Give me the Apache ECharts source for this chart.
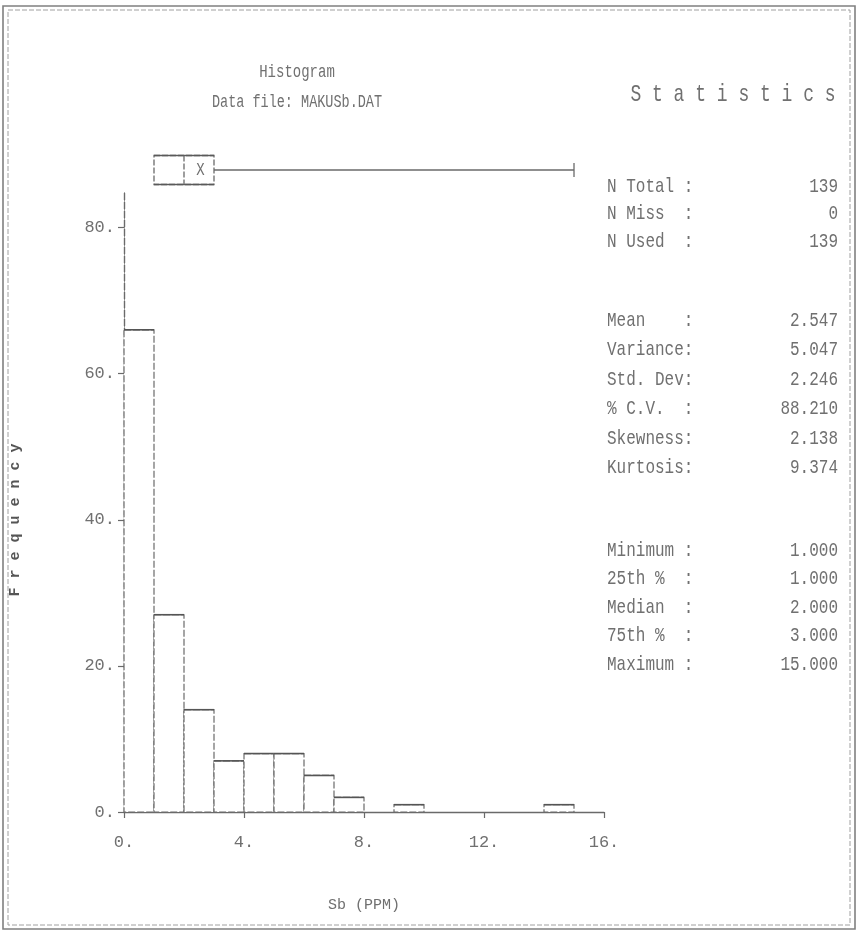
<!DOCTYPE html>
<html>
<head>
<meta charset="utf-8">
<script src="https://cdn.jsdelivr.net/npm/echarts@6/dist/echarts.min.js"></script>
<style>
  html, body { margin: 0; padding: 0; background: #fff; }
  #chart { width: 859px; height: 933px; }
</style>
</head>
<body>
<div id="chart"></div>
<script>
// Sb (PPM) histogram, unit-wide bins: bin k holds the values falling in (k, k+1]
const binStarts = [0, 1, 2, 3, 4, 5, 6, 7, 8, 9, 10, 11, 12, 13, 14, 15];
const binCounts = [66, 27, 14, 7, 8, 8, 5, 2, 0, 1, 0, 0, 0, 0, 1, 0];
const xTicks = [0, 4, 8, 12, 16];
const yTicks = [0, 20, 40, 60, 80];

// Summary statistics, printed in three blocks
const countLabels = ['N Total :', 'N Miss  :', 'N Used  :'];
const countValues = ['139', '0', '139'];
const momentLabels = ['Mean    :', 'Variance:', 'Std. Dev:', '% C.V.  :', 'Skewness:', 'Kurtosis:'];
const momentValues = ['2.547', '5.047', '2.246', '88.210', '2.138', '9.374'];
const orderLabels = ['Minimum :', '25th %  :', 'Median  :', '75th %  :', 'Maximum :'];
const orderValues = ['1.000', '1.000', '2.000', '3.000', '15.000'];

// Box-and-whisker summary above the histogram
const boxSummary = [
  parseFloat(orderValues[0]),   // minimum
  parseFloat(orderValues[1]),   // 25th percentile
  parseFloat(orderValues[2]),   // median
  parseFloat(orderValues[3]),   // 75th percentile
  parseFloat(orderValues[4]),   // maximum
  parseFloat(momentValues[0])   // mean
];

const MONO = '"Liberation Mono", "DejaVu Sans Mono", monospace';
const INK = '#6a6a6a';
const TEXT = '#707070';
const DASH = [7, 2];

const chart = echarts.init(document.getElementById('chart'), null, { renderer: 'canvas' });

const binWidth = binStarts[1] - binStarts[0];
const histData = binStarts.map((s, i) => [s, binCounts[i]]);

// Tall, narrow printer-style text
function printText(x, y, text, size, align, stretch, extra) {
  return Object.assign({
    type: 'text', x: x, y: y, scaleY: stretch, silent: true,
    style: { text: text, font: size + 'px ' + MONO, fill: TEXT, textAlign: align, textVerticalAlign: 'middle' }
  }, extra || {});
}

// Statistics panel text
const statsGraphics = [];
function addBlock(labels, values, top, gap) {
  labels.forEach((lab, i) => {
    const y = top + i * gap;
    statsGraphics.push(printText(607, y, lab, 16, 'left', 1.3));
    statsGraphics.push(printText(838, y, values[i], 16, 'right', 1.3));
  });
}
addBlock(countLabels, countValues, 186, 27.5);
addBlock(momentLabels, momentValues, 320, 29.5);
addBlock(orderLabels, orderValues, 550, 28.5);

const option = {
  animation: false,
  backgroundColor: '#fff',
  grid: [
    { left: 124, right: 255, top: 191, bottom: 121 },
    { left: 124, right: 255, top: 150, height: 40 }
  ],
  xAxis: [
    {
      type: 'value', gridIndex: 0, min: 0, max: 16, interval: 4,
      name: 'Sb (PPM)', nameLocation: 'middle', nameGap: 86,
      nameTextStyle: { fontFamily: MONO, fontSize: 15, color: TEXT },
      axisLine: { show: true, lineStyle: { color: INK, width: 1.3 } },
      axisTick: { show: true, length: 6, inside: false, lineStyle: { color: INK, width: 1.2 }, customValues: xTicks },
      axisLabel: {
        customValues: xTicks, margin: 22, fontFamily: MONO, fontSize: 17, color: TEXT,
        formatter: v => v + '.'
      },
      splitLine: { show: false }
    },
    {
      type: 'value', gridIndex: 0, min: 0, max: 16, position: 'top',
      axisLine: { show: true, lineStyle: { color: INK, width: 1.2, type: DASH } },
      axisTick: { show: false }, axisLabel: { show: false }, splitLine: { show: false }
    },
    {
      type: 'value', gridIndex: 1, min: 0, max: 16, show: false
    }
  ],
  yAxis: [
    {
      type: 'value', gridIndex: 0, min: 0, max: 85,
      axisLine: { show: true, lineStyle: { color: INK, width: 1.2, type: DASH } },
      axisTick: { show: true, length: 6, lineStyle: { color: INK, width: 1.2 }, customValues: yTicks },
      axisLabel: {
        customValues: yTicks, margin: 9, fontFamily: MONO, fontSize: 17, color: TEXT,
        formatter: v => v + '.'
      },
      splitLine: { show: false }
    },
    {
      type: 'value', gridIndex: 0, min: 0, max: 85, position: 'right',
      axisLine: { show: true, lineStyle: { color: INK, width: 1.2, type: DASH } },
      axisTick: { show: false }, axisLabel: { show: false }, splitLine: { show: false }
    },
    {
      type: 'value', gridIndex: 1, min: 0, max: 1, show: false
    }
  ],
  series: [
    {
      name: 'Sb histogram',
      type: 'custom',
      xAxisIndex: 0, yAxisIndex: 0,
      data: histData,
      renderItem: function (params, api) {
        const start = api.value(0);
        const count = api.value(1);
        if (!count) return null;
        const topLeft = api.coord([start, count]);
        const bottomRight = api.coord([start + binWidth, 0]);
        return {
          type: 'group',
          children: [
            {
              type: 'rect',
              shape: { x: topLeft[0], y: topLeft[1], width: bottomRight[0] - topLeft[0], height: bottomRight[1] - topLeft[1] },
              style: { fill: '#fff', stroke: INK, lineWidth: 1.2, lineDash: DASH }
            },
            {
              type: 'line',
              shape: { x1: topLeft[0], y1: topLeft[1], x2: bottomRight[0], y2: topLeft[1] },
              style: { stroke: '#555', lineWidth: 1.6 }
            }
          ]
        };
      }
    },
    {
      name: 'Sb box plot',
      type: 'custom',
      xAxisIndex: 2, yAxisIndex: 2,
      data: [boxSummary],
      renderItem: function (params, api) {
        const minV = api.value(0), q1 = api.value(1), med = api.value(2),
              q3 = api.value(3), maxV = api.value(4), mean = api.value(5);
        const half = 14.5, cap = 7;
        const pQ1 = api.coord([q1, 0.5]);
        const pMed = api.coord([med, 0.5]);
        const pQ3 = api.coord([q3, 0.5]);
        const pMax = api.coord([maxV, 0.5]);
        const pMin = api.coord([minV, 0.5]);
        const pMean = api.coord([mean, 0.5]);
        const cy = pQ1[1];
        const stroke = { stroke: INK, lineWidth: 1.3, fill: null };
        const kids = [
          { type: 'rect', shape: { x: pQ1[0], y: cy - half, width: pQ3[0] - pQ1[0], height: 2 * half },
            style: { fill: '#fff', stroke: INK, lineWidth: 1.3, lineDash: [6, 2] } },
          { type: 'line', shape: { x1: pQ1[0], y1: cy - half, x2: pQ3[0], y2: cy - half }, style: { stroke: '#5a5a5a', lineWidth: 1.5 } },
          { type: 'line', shape: { x1: pQ1[0], y1: cy + half, x2: pQ3[0], y2: cy + half }, style: { stroke: '#5a5a5a', lineWidth: 1.5 } },
          { type: 'line', shape: { x1: pMed[0], y1: cy - half, x2: pMed[0], y2: cy + half }, style: Object.assign({ lineDash: [6, 2] }, stroke) },
          { type: 'line', shape: { x1: pQ3[0], y1: cy, x2: pMax[0], y2: cy }, style: stroke },
          { type: 'line', shape: { x1: pMax[0], y1: cy - cap, x2: pMax[0], y2: cy + cap }, style: stroke },
          { type: 'text', x: pMean[0], y: cy, scaleY: 1.3,
            style: { text: 'X', font: '14px ' + MONO, fill: TEXT, textAlign: 'center', textVerticalAlign: 'middle' } }
        ];
        if (pMin[0] < pQ1[0]) {
          kids.push({ type: 'line', shape: { x1: pMin[0], y1: cy, x2: pQ1[0], y2: cy }, style: stroke });
          kids.push({ type: 'line', shape: { x1: pMin[0], y1: cy - cap, x2: pMin[0], y2: cy + cap }, style: stroke });
        }
        return { type: 'group', children: kids };
      }
    }
  ],
  graphic: [
    // printed page frame (double rule)
    { type: 'rect', shape: { x: 3, y: 6, width: 852, height: 923 }, style: { fill: null, stroke: '#808080', lineWidth: 1.6 }, silent: true },
    { type: 'rect', shape: { x: 8, y: 10, width: 842, height: 915 }, style: { fill: null, stroke: '#a0a0a0', lineWidth: 1, lineDash: [5, 2] }, silent: true },
    printText(297, 72, 'Histogram', 14, 'center', 1.3),
    printText(297, 102, 'Data file: MAKUSb.DAT', 13.5, 'center', 1.3),
    printText(733, 95, 'S t a t i s t i c s', 18, 'center', 1.3),
    // vertical axis title, read bottom to top
    printText(15, 520, 'F r e q u e n c y', 15, 'center', 1, {
      rotation: Math.PI / 2,
      style: { text: 'F r e q u e n c y', font: 'bold 15px ' + MONO, fill: '#555', textAlign: 'center', textVerticalAlign: 'middle' }
    })
  ].concat(statsGraphics)
};

chart.setOption(option);
</script>
</body>
</html>
